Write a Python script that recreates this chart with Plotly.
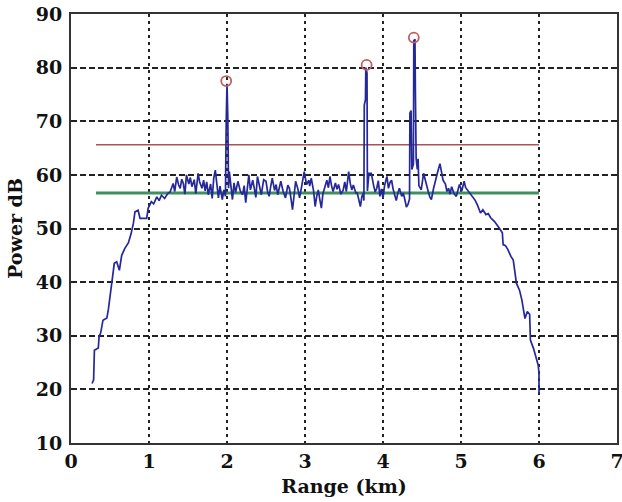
import plotly.graph_objects as go

# Range (km) and power (dB) of the measured profile
range_km = [0.27, 0.29, 0.30, 0.33, 0.35, 0.36, 0.38, 0.41, 0.46, 0.48, 0.50, 0.52, 0.555, 0.586, 0.62, 0.65, 0.69, 0.735, 0.77, 0.80,
            0.82, 0.86, 0.885, 0.97, 0.99, 1.03, 1.06, 1.10, 1.13, 1.16, 1.20, 1.24, 1.27, 1.31, 1.33, 1.355, 1.38, 1.40, 1.42, 1.44,
            1.46, 1.48, 1.51, 1.53, 1.55, 1.58, 1.60, 1.63, 1.65, 1.68, 1.70, 1.72, 1.74, 1.76, 1.79, 1.81, 1.83, 1.85, 1.87, 1.89,
            1.91, 1.94, 1.96, 1.98, 1.99, 2.00, 2.01, 2.02, 2.03, 2.05, 2.07, 2.09, 2.11, 2.14, 2.17, 2.20, 2.22, 2.24, 2.26, 2.28,
            2.30, 2.33, 2.35, 2.37, 2.39, 2.42, 2.44, 2.47, 2.50, 2.52, 2.54, 2.56, 2.58, 2.61, 2.63, 2.65, 2.67, 2.69, 2.72, 2.75,
            2.78, 2.80, 2.82, 2.84, 2.86, 2.88, 2.91, 2.93, 2.96, 2.99, 3.02, 3.05, 3.06, 3.08, 3.11, 3.13, 3.15, 3.17, 3.19, 3.21,
            3.23, 3.26, 3.28, 3.30, 3.32, 3.34, 3.36, 3.39, 3.41, 3.43, 3.46, 3.49, 3.51, 3.53, 3.56, 3.58, 3.60, 3.62, 3.65, 3.67,
            3.69, 3.71, 3.73, 3.75, 3.755, 3.76, 3.775, 3.78, 3.795, 3.80, 3.82, 3.85, 3.88, 3.90, 3.92, 3.94, 3.96, 3.98, 4.00, 4.02,
            4.05, 4.07, 4.09, 4.11, 4.13, 4.15, 4.17, 4.19, 4.21, 4.24, 4.26, 4.28, 4.30, 4.32, 4.34, 4.345, 4.36, 4.37, 4.39, 4.395,
            4.41, 4.415, 4.425, 4.44, 4.45, 4.46, 4.49, 4.52, 4.55, 4.58, 4.60, 4.62, 4.65, 4.67, 4.70, 4.73, 4.75, 4.77, 4.80, 4.82,
            4.84, 4.86, 4.88, 4.91, 4.94, 4.96, 4.98, 5.01, 5.04, 5.06, 5.08, 5.12, 5.15, 5.18, 5.21, 5.25, 5.28, 5.32, 5.35, 5.38,
            5.43, 5.46, 5.49, 5.53, 5.54, 5.57, 5.60, 5.64, 5.67, 5.69, 5.71, 5.75, 5.78, 5.82, 5.85, 5.88, 5.89, 5.93, 5.96, 5.99,
            6.00, 6.00]
power_db = [21.1, 21.8, 27.3, 27.5, 27.7, 29.8, 30.5, 32.9, 33.3, 35.0, 37.6, 39.8, 43.5, 43.8, 42.2, 45.0, 46.3, 47.3, 49.0, 51.0,
            53.1, 53.4, 51.9, 51.9, 53.8, 55.0, 54.6, 55.9, 55.2, 56.2, 55.6, 56.5, 56.8, 58.4, 56.9, 59.6, 58.1, 57.5, 59.2, 58.4,
            56.4, 60.0, 58.3, 59.5, 57.8, 59.1, 56.5, 60.3, 58.6, 57.5, 59.0, 57.0, 58.7, 56.3, 58.3, 55.6, 59.4, 60.9, 57.6, 55.7,
            57.9, 55.4, 57.2, 56.0, 70.0, 77.0, 71.0, 57.5, 60.6, 58.2, 55.4, 58.5, 56.7, 58.8, 57.0, 56.3, 58.0, 54.8, 57.4, 60.0,
            57.2, 59.0, 57.5, 55.8, 59.7, 57.9, 56.3, 59.1, 58.8, 56.9, 56.0, 57.8, 59.4, 57.1, 58.2, 56.3, 57.4, 58.8, 56.9, 55.7,
            58.1, 57.5, 55.6, 53.5, 56.2, 58.8, 57.3, 55.7, 58.1, 60.6, 58.2, 59.0, 57.9, 59.4, 57.0, 54.1, 56.0, 57.2, 55.4, 53.8,
            56.5, 58.1, 59.0, 57.6, 59.7, 58.0, 56.9, 58.5, 57.3, 58.2, 56.4, 57.2, 58.7, 56.9, 60.6, 58.4, 57.2, 58.1, 56.7, 56.6,
            55.6, 54.1, 56.0, 56.6, 55.2, 73.0, 74.0, 80.0, 79.0, 57.0, 60.3, 60.3, 58.0, 56.8, 57.5, 58.9, 56.0, 57.4, 55.6, 58.0,
            59.7, 57.5, 58.6, 59.0, 57.3, 56.3, 55.2, 56.6, 57.5, 56.0, 56.6, 55.4, 54.0, 54.5, 55.5, 71.5, 72.0, 61.0, 62.0, 85.0,
            85.3, 76.0, 63.0, 61.0, 63.0, 58.0, 57.2, 60.3, 58.4, 56.9, 55.9, 55.4, 57.6, 59.0, 60.5, 62.1, 60.2, 59.0, 58.3, 56.9,
            57.5, 56.4, 57.8, 56.5, 56.0, 57.3, 58.2, 57.0, 58.8, 57.6, 57.2, 56.5, 56.0, 55.3, 54.4, 52.9, 53.5, 52.6, 52.8, 52.0,
            51.3, 50.8, 50.1, 49.2, 47.0, 46.8, 46.1, 44.8, 44.1, 42.0, 39.8, 38.5, 36.7, 33.2, 34.5, 34.0, 29.2, 27.6, 26.1, 24.5,
            23.0, 19.2]

# Detected peaks
peak_range = [1.99, 3.79, 4.395]
peak_power = [77.5, 80.5, 85.6]

# Threshold lines
threshold_range = [0.32, 6.0]
upper_threshold = [65.6, 65.6]
lower_threshold = [56.6, 56.6]

x_ticks = [0, 1, 2, 3, 4, 5, 6, 7]
y_ticks = [10, 20, 30, 40, 50, 60, 70, 80, 90]

font_family = "DejaVu Serif"

fig = go.Figure()
fig.add_trace(go.Scatter(x=threshold_range, y=lower_threshold, mode="lines",
                         line=dict(color="#3f8f5f", width=3), hoverinfo="skip"))
fig.add_trace(go.Scatter(x=threshold_range, y=upper_threshold, mode="lines",
                         line=dict(color="#a85555", width=1.5), hoverinfo="skip"))
fig.add_trace(go.Scatter(x=range_km, y=power_db, mode="lines",
                         line=dict(color="#24289a", width=1.7)))
fig.add_trace(go.Scatter(x=peak_range, y=peak_power, mode="markers",
                         marker=dict(symbol="circle-open", size=10, color="#c06060",
                                     line=dict(width=1.8, color="#c06060"))))

axis_common = dict(
    showgrid=True, gridcolor="#222222", gridwidth=2,
    showline=True, linecolor="#333333", linewidth=2, mirror=True,
    ticks="", zeroline=False, automargin=False, ticklabeloverflow="allow",
    tickfont=dict(family=font_family, size=19, color="#111111", weight="bold"),
)

fig.update_xaxes(range=[0, 7], tickvals=x_ticks, ticktext=[str(v) for v in x_ticks],
                 griddash="3px,4px",
                 title=dict(text="Range (km)", font=dict(family=font_family, size=19, color="#111111", weight="bold"),
                            standoff=9),
                 **axis_common)
fig.update_yaxes(range=[10, 90], tickvals=y_ticks, ticktext=[str(v) for v in y_ticks],
                 griddash="6px,3px", ticklabelstandoff=3,
                 title=dict(text="Power dB", font=dict(family=font_family, size=19, color="#111111", weight="bold"),
                            standoff=8),
                 **axis_common)

fig.update_layout(
    width=622, height=502,
    margin=dict(l=71, r=5, t=14, b=59),
    paper_bgcolor="white", plot_bgcolor="white",
    showlegend=False,
)

fig.write_html("out.html", config={"displayModeBar": False},
               post_script="document.body.style.margin='0';document.body.style.overflow='hidden';")
